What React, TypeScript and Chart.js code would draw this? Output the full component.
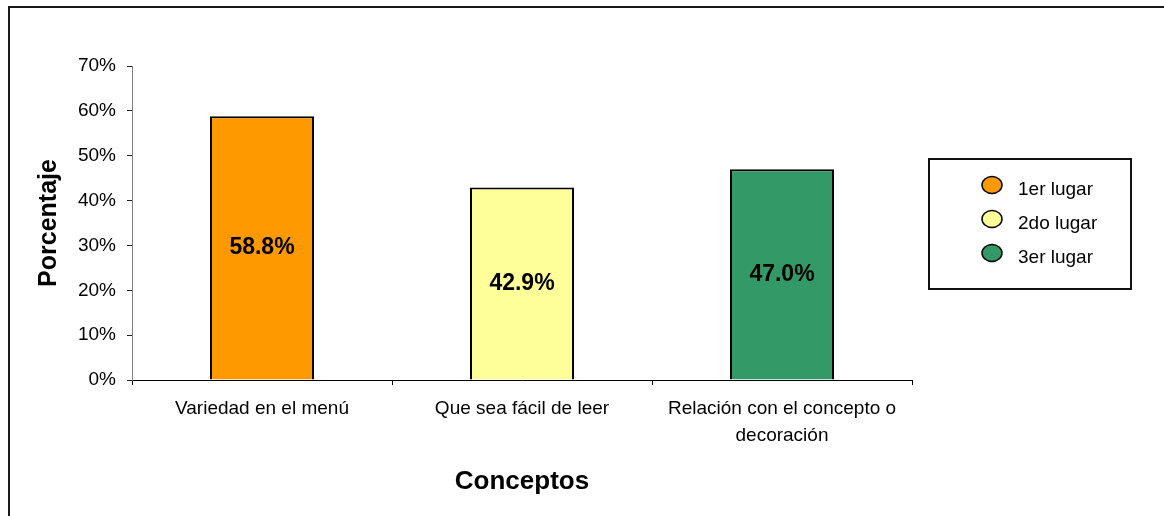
import React, { useEffect, useRef } from "react";
import { Chart, registerables } from "chart.js";

Chart.register(...registerables);

// Survey results: share of respondents per concept
const categories: (string | string[])[] = [
  "Variedad en el menú",
  "Que sea fácil de leer",
  ["Relación con el concepto o", "decoración"],
];
const percentages = [58.8, 42.9, 47.0];
const barColors = ["#FF9900", "#FFFF99", "#339966"];
const legendLabels = ["1er lugar", "2do lugar", "3er lugar"];
const yTicks = [0, 10, 20, 30, 40, 50, 60, 70];

const FONT = "'Liberation Sans', Arial, Helvetica, sans-serif";

// Outer frame of the chart object
const framePlugin = {
  id: "frame",
  beforeDraw(chart: Chart) {
    const { ctx } = chart;
    ctx.save();
    ctx.fillStyle = "#ffffff";
    ctx.fillRect(0, 0, chart.width, chart.height);
    ctx.strokeStyle = "#1a1a1a";
    ctx.lineWidth = 2;
    ctx.strokeRect(9, 7, chart.width + 20, chart.height + 20);
    ctx.restore();
  },
};

// Percentage written in the middle of every bar
const valueLabelPlugin = {
  id: "valueLabels",
  afterDatasetsDraw(chart: Chart) {
    const { ctx } = chart;
    const meta = chart.getDatasetMeta(0);
    ctx.save();
    ctx.font = `bold 23px ${FONT}`;
    ctx.fillStyle = "#000";
    ctx.textAlign = "center";
    ctx.textBaseline = "middle";
    meta.data.forEach((el: any, i: number) => {
      const { x, y, base } = el.getProps(["x", "y", "base"], true);
      ctx.fillText(`${percentages[i].toFixed(1)}%`, x, (y + base) / 2);
    });
    ctx.restore();
  },
};

// Boxed legend on the right with round markers
const boxLegendPlugin = {
  id: "boxLegend",
  afterDraw(chart: Chart) {
    const { ctx } = chart;
    const left = 929;
    const top = 159;
    const w = 202;
    const h = 130;
    ctx.save();
    ctx.strokeStyle = "#111";
    ctx.lineWidth = 2;
    ctx.strokeRect(left, top, w, h);
    ctx.font = `19px ${FONT}`;
    ctx.textAlign = "left";
    ctx.textBaseline = "middle";
    legendLabels.forEach((label, i) => {
      const cy = 185 + i * 34;
      ctx.beginPath();
      ctx.ellipse(992, cy, 10, 8.5, 0, 0, Math.PI * 2);
      ctx.fillStyle = barColors[i];
      ctx.fill();
      ctx.lineWidth = 1.5;
      ctx.strokeStyle = "#000";
      ctx.stroke();
      ctx.fillStyle = "#000";
      ctx.fillText(label, 1018, cy + 5);
    });
    ctx.restore();
  },
};

export default function App() {
  const canvasRef = useRef<HTMLCanvasElement | null>(null);

  useEffect(() => {
    if (!canvasRef.current) return;
    Chart.defaults.font.family = FONT;
    Chart.defaults.color = "#000";

    const chart = new Chart(canvasRef.current, {
      type: "bar",
      data: {
        labels: categories,
        datasets: [
          {
            label: "Porcentaje",
            data: percentages,
            backgroundColor: barColors,
            borderColor: "#000",
            borderWidth: 2,
            barPercentage: 0.4,
            categoryPercentage: 1,
          },
        ],
      },
      options: {
        responsive: false,
        animation: false,
        layout: { padding: { left: 0, right: 252, top: 66, bottom: 0 } },
        plugins: {
          legend: { display: false },
          tooltip: { enabled: false },
        },
        scales: {
          x: {
            offset: true,
            grid: {
              offset: true,
              drawOnChartArea: false,
              drawTicks: true,
              tickLength: 5,
              tickColor: "#000",
            },
            border: { color: "#000", width: 1 },
            ticks: {
              font: { size: 19, lineHeight: "27px" },
              padding: 10,
              maxRotation: 0,
              autoSkip: false,
            },
            title: {
              display: true,
              text: "Conceptos",
              font: { size: 26, weight: "bold" },
              padding: { top: 0, bottom: 19 },
            },
            afterFit(scale: any) {
              scale.height = 136;
            },
          },
          y: {
            min: 0,
            max: 70,
            afterBuildTicks(scale: any) {
              scale.ticks = yTicks.map((v) => ({ value: v }));
            },
            grid: {
              drawOnChartArea: false,
              drawTicks: true,
              tickLength: 5,
              tickColor: "#222",
            },
            border: { color: "#808080", width: 1 },
            ticks: {
              font: { size: 19 },
              padding: 11,
              callback: (v: any) => `${v}%`,
            },
            title: {
              display: true,
              text: "Porcentaje",
              font: { size: 25, weight: "bold" },
              padding: { top: 34, bottom: 0 },
            },
            afterFit(scale: any) {
              scale.width = 132;
            },
          },
        },
      },
      plugins: [framePlugin, valueLabelPlugin, boxLegendPlugin],
    });

    return () => chart.destroy();
  }, []);

  return (
    <div style={{ position: "fixed", left: 0, top: 0, width: 1164, height: 516, background: "#fff" }}>
      <canvas ref={canvasRef} width={1164} height={516} style={{ display: "block" }} />
    </div>
  );
}
